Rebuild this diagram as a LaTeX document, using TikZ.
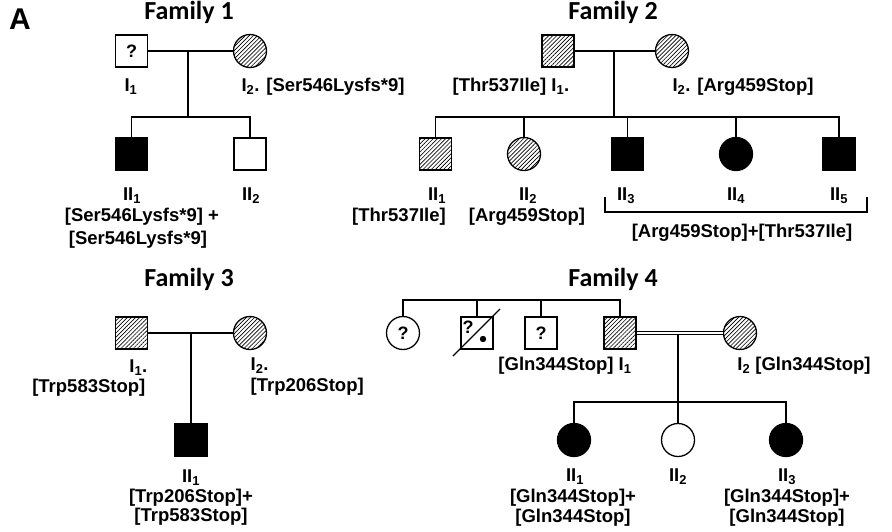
\documentclass[tikz,border=0pt]{standalone}
\usepackage{fontspec}
\setmainfont{Liberation Sans}
\newfontfamily\titlefont{Carlito}
\usetikzlibrary{patterns.meta,calc}
\begin{document}
\begin{tikzpicture}[x=1pt,y=-1pt, line width=1.3pt,
 every node/.style={font=\fontsize{18.5}{21}\selectfont\bfseries, inner sep=0pt},
 male/.style={draw, rectangle, minimum size=32pt},
 female/.style={draw, circle, minimum size=33pt},
 aff/.style={fill=black},
 carrier/.style={pattern={Lines[angle=45,distance=2.9pt,line width=0.65pt]}},
 ttl/.style={font=\titlefont\fontsize{26}{30}\selectfont\bfseries},
 ekey/.style={anchor=east},
 wkey/.style={anchor=west},
 qm/.style={font=\fontsize{18}{20}\selectfont\bfseries}
]
\fill[white] (0,0) rectangle (892,531);
\useasboundingbox (0,0) rectangle (892,531);
\node[font=\fontsize{30}{34}\selectfont\bfseries] (A) at (20,19) {A};

% ---------------- Family 1
\node[ttl] (t1) at (189,12) {Family 1};
\node[male,qm] (f1i1) at (131.5,51) {?};
\node[female,carrier] (f1i2) at (250,51) {};
\node[male,aff] (f1ii1) at (131.5,154) {};
\node[male] (f1ii2) at (250,154) {};
\coordinate (f1m) at (188,51);
\coordinate (f1s) at (188,117);
\draw (f1i1) -- (f1i2);
\draw (f1m) -- (f1s);
\draw (f1ii1.north) |- (f1s) -| (f1ii2.north);
\node (f1l1) at (131,87) {I\textsubscript{1}};
\node (f1l2) at (323,87) {I\textsubscript{2}. [Ser546Lysfs*9]};
\node (f1l3) at (132,196) {II\textsubscript{1}};
\node (f1l4) at (142,217) {[Ser546Lysfs*9] +};
\node (f1l5) at (138,240) {[Ser546Lysfs*9]};
\node (f1l6) at (251,196) {II\textsubscript{2}};

% ---------------- Family 2
\node[ttl] (t2) at (613,12) {Family 2};
\node[male,carrier] (f2i1) at (558,51) {};
\node[female,carrier] (f2i2) at (672,51) {};
\node[male,carrier] (f2ii1) at (435.5,154) {};
\node[female,carrier] (f2ii2) at (524,154) {};
\node[male,aff] (f2ii3) at (627.5,154) {};
\node[female,aff] (f2ii4) at (736,154) {};
\node[male,aff] (f2ii5) at (839,154) {};
\coordinate (f2m) at (614,51);
\coordinate (f2s) at (614,117);
\draw (f2i1) -- (f2i2);
\draw (f2m) -- (f2s);
\draw (f2ii1.north) |- (f2s) -| (f2ii5.north);
\draw (f2ii2.north) -- (f2ii2.north |- f2s);
\draw (f2ii3.north) -- (f2ii3.north |- f2s);
\draw (f2ii4.north) -- (f2ii4.north |- f2s);
\node (f2l1) at (511,87) {[Thr537Ile] I\textsubscript{1}.};
\node (f2l2) at (743,87) {I\textsubscript{2}. [Arg459Stop]};
\node (f2l3) at (437,196) {II\textsubscript{1}};
\node (f2l4) at (399,217) {[Thr537Ile]};
\node (f2l5) at (528,196) {II\textsubscript{2}};
\node (f2l6) at (527,217) {[Arg459Stop]};
\node (f2l7) at (626,196) {II\textsubscript{3}};
\node (f2l8) at (736,196) {II\textsubscript{4}};
\node (f2l9) at (839,196) {II\textsubscript{5}};
\draw (605,197) -- (605,212) -- (867,212) -- (867,197);
\node (f2l10) at (742,233) {[Arg459Stop]+[Thr537Ile]};

% ---------------- Family 3
\node[ttl] (t3) at (189,279) {Family 3};
\node[male,carrier] (f3i1) at (131.5,333) {};
\node[female,carrier] (f3i2) at (250,333) {};
\node[male,aff] (f3ii1) at (191,440) {};
\coordinate (f3m) at (191,333);
\draw (f3i1) -- (f3i2);
\draw (f3m) -- (f3ii1.north);
\node[ekey] (f3l1) at (148,368) {I\textsubscript{1}.};
\node[ekey] (f3l2) at (146,388) {[Trp583Stop]};
\node[wkey] (f3l3) at (250,366) {I\textsubscript{2}.};
\node[wkey] (f3l4) at (250,387) {[Trp206Stop]};
\node (f3l5) at (191,478) {II\textsubscript{1}};
\node (f3l6) at (191,498) {[Trp206Stop]+};
\node (f3l7) at (191,517) {[Trp583Stop]};

% ---------------- Family 4
\node[ttl] (t4) at (613,279) {Family 4};
\node[female,qm] (f4a) at (403,333) {?};
\node[male] (f4b) at (477,333) {};
\node[qm] (f4bq) at (468,327) {?};
\fill (483,339) circle (3.2);
\draw ($(f4b)+(-24,23)$) -- ($(f4b)+(23,-24)$);
\node[male,qm] (f4c) at (541,333) {?};
\node[male,carrier] (f4i1) at (620,333) {};
\node[female,carrier] (f4i2) at (740,333) {};
\coordinate (f4t) at (620,300);
\draw (f4a.north) |- (f4t) -- (f4i1.north);
\draw (f4b.north) -- (f4b.north |- f4t);
\draw (f4c.north) -- (f4c.north |- f4t);
\node[female,aff] (f4ii1) at (574,440) {};
\node[female] (f4ii2) at (678,440) {};
\node[female,aff] (f4ii3) at (786,440) {};
\coordinate (f4m) at (678,333);
\coordinate (f4s) at (678,402);
\draw (f4m) -- (f4ii2.north);
\draw (f4ii1.north) |- (f4s) -| (f4ii3.north);
\draw[double, double distance=2.6pt, line width=1.1pt] (f4i1) -- (f4i2);
\node (f4l1) at (565,366) {[Gln344Stop] I\textsubscript{1}};
\node (f4l2) at (804,366) {I\textsubscript{2} [Gln344Stop]};
\node (f4l3) at (575,477) {II\textsubscript{1}};
\node (f4l4) at (573,498) {[Gln344Stop]+};
\node (f4l5) at (573,518) {[Gln344Stop]};
\node (f4l6) at (678,477) {II\textsubscript{2}};
\node (f4l7) at (787,477) {II\textsubscript{3}};
\node (f4l8) at (787,498) {[Gln344Stop]+};
\node (f4l9) at (787,518) {[Gln344Stop]};
\end{tikzpicture}
\end{document}
